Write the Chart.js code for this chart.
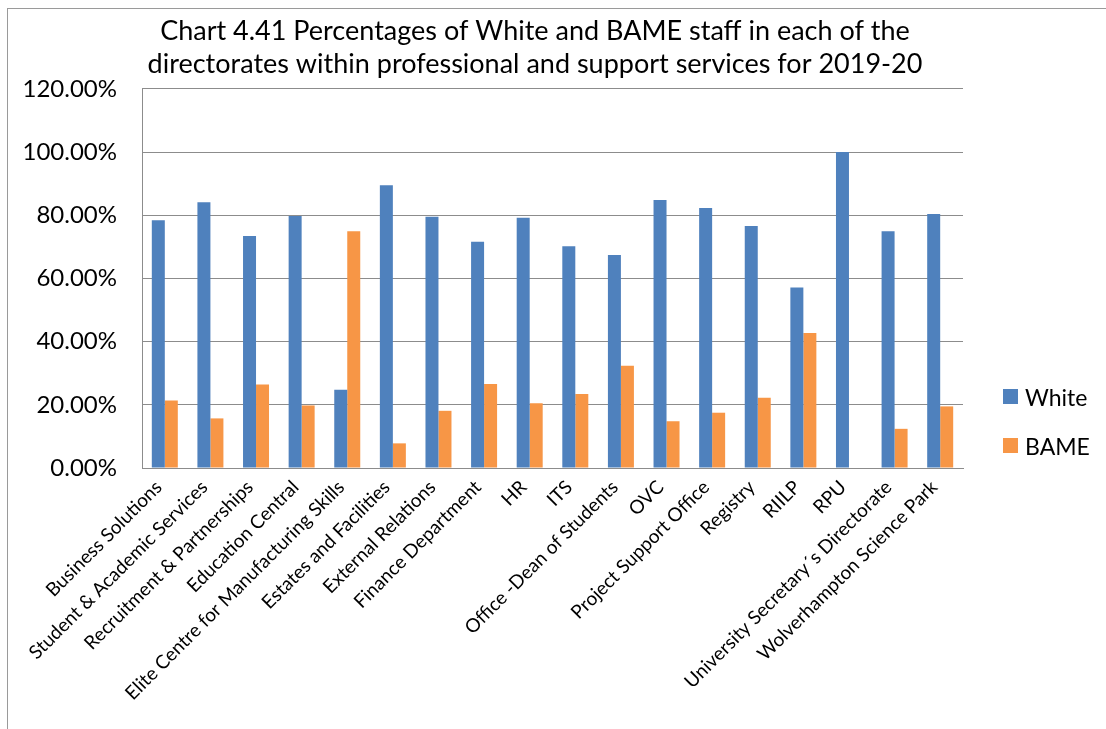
<!DOCTYPE html>
<html>
<head>
<meta charset="utf-8">
<script src="https://cdn.jsdelivr.net/npm/chart.js@4/dist/chart.umd.min.js"></script>
<style>
  html, body { margin: 0; padding: 0; background: #fff; }
  #frame {
    position: absolute; left: 7px; top: 8px; width: 1110px; height: 730px;
    border-left: 1px solid #9a9a9a; border-top: 1px solid #9a9a9a;
  }
  #wrap { position: absolute; left: 8px; top: 9px; width: 1098px; height: 720px; }
  #legend { position: absolute; left: 1003px; top: 372px; font-family: Lato, sans-serif; font-size: 23px; color: #000; }
  #legend div { height: 49px; display: flex; align-items: center; }
  #legend span.box { display: inline-block; width: 15px; height: 15px; margin-right: 7px; }
</style>
</head>
<body>
<div id="frame"></div>
<div id="wrap"><canvas id="chart"></canvas></div>
<div id="legend"></div>
<script>
// 부서 목록
const directorates = [
    'Business Solutions', 'Student & Academic Services', 'Recruitment & Partnerships',
    'Education Central', 'Elite Centre for Manufacturing Skills', 'Estates and Facilities',
    'External Relations', 'Finance Department', 'HR', 'ITS', 'Office -Dean of Students',
    'OVC', 'Project Support Office', 'Registry', 'RIILP', 'RPU',
    'University Secretary\u00b4s Directorate', 'Wolverhampton Science Park'
];
// 비율 (%)
const whitePct = [78.4, 84.1, 73.4, 79.8, 24.8, 89.5, 79.5, 71.6, 79.2, 70.2, 67.4, 84.8, 82.3, 76.6, 57.1, 100, 74.9, 80.4];
const bamePct  = [21.4, 15.7, 26.4, 19.8, 74.9, 7.8, 18.1, 26.6, 20.5, 23.4, 32.4, 14.8, 17.5, 22.2, 42.7, 0, 12.4, 19.5];
const seriesNames = ['White', 'BAME'];
const seriesColors = ['#4F81BD', '#F79646'];
const yTicks = [0, 20, 40, 60, 80, 100, 120];

// 제목 위치 보정 (범례 영역까지 포함해서 가운데 정렬)
const titleSpan = {
    id: 'titleSpan',
    afterLayout: function(chart) {
        const t = chart.titleBlock;
        if (t) { t.left = 0; t.right = 1054; t.width = 1054; }
    }
};

const ctx = document.getElementById('chart').getContext('2d');
const chart = new Chart(ctx, {
    type: 'bar',
    data: {
        labels: directorates,
        datasets: [
            { label: seriesNames[0], data: whitePct, backgroundColor: seriesColors[0] },
            { label: seriesNames[1], data: bamePct, backgroundColor: seriesColors[1] }
        ]
    },
    plugins: [titleSpan],
    options: {
        responsive: true,
        maintainAspectRatio: false,
        animation: false,
        categoryPercentage: 0.57,
        barPercentage: 1.0,
        layout: { padding: { right: 143 } },
        plugins: {
            legend: { display: false }, // 범례는 HTML로
            tooltip: { enabled: false },
            title: {
                display: true,
                text: ['Chart 4.41 Percentages of White and BAME staff in each of the',
                       'directorates within professional and support services for 2019-20'],
                color: '#000',
                font: { family: 'Lato', size: 27, weight: 'normal', lineHeight: 1.22 },
                padding: { top: 6, bottom: 8 }
            }
        },
        scales: {
            x: {
                grid: { display: false, drawTicks: false },
                border: { display: true, color: '#8c8c8c', width: 1 },
                ticks: {
                    color: '#000', autoSkip: false, minRotation: 45, maxRotation: 45, padding: 8,
                    labelOffset: -6,
                    font: { family: 'Lato', size: 19 }
                },
                afterFit: function(scale) { scale.height = 261; }
            },
            y: {
                min: yTicks[0], max: yTicks[yTicks.length - 1],
                afterBuildTicks: function(scale) { scale.ticks = yTicks.map(v => ({ value: v })); },
                grid: { color: '#8c8c8c', lineWidth: 1, drawTicks: false },
                border: { display: true, color: '#8c8c8c', width: 1 },
                ticks: {
                    color: '#000', padding: 25,
                    font: { family: 'Lato', size: 24 },
                    callback: v => v.toFixed(2) + '%'
                },
                afterFit: function(scale) { scale.width = 134; }
            }
        }
    }
});

// 범례 생성
const legendEl = document.getElementById('legend');
chart.data.datasets.forEach(ds => {
    const row = document.createElement('div');
    row.innerHTML = '<span class="box" style="background:' + ds.backgroundColor + '"></span>' + ds.label;
    legendEl.appendChild(row);
});
</script>
</body>
</html>
